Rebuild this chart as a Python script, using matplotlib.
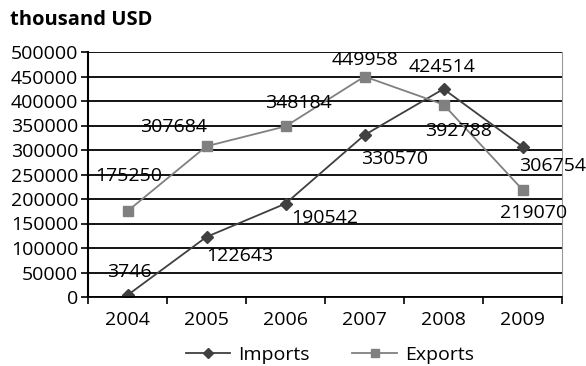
import matplotlib
matplotlib.use('Agg')
import matplotlib.pyplot as plt
import numpy as np

# ─── DATA ───
years = ['2004', '2005', '2006', '2007', '2008', '2009']
imports = [3746, 122643, 190542, 330570, 424514, 306754]
exports = [175250, 307684, 348184, 449958, 392788, 219070]

# label offsets (points) for each data label
imp_off = [(1, 17), (24, -14), (28, -10), (22, -17), (-1, 16), (22, -14)]
exp_off = [(1, 25), (-24, 14), (9, 17), (0, 12), (11, -19), (8, -17)]

plt.rcParams['font.family'] = ['Open Sans', 'DejaVu Sans']
FS = 14

fig = plt.figure(figsize=(5.86, 3.66), dpi=100)
ax = fig.add_axes([88/586, 1-297/366, 474/586, 245/366])

x = np.arange(len(years))
ax.plot(x, imports, '-D', color='#404040', markersize=6.5, linewidth=1.3, label='Imports')
ax.plot(x, exports, '-s', color='#808080', markersize=7.5, linewidth=1.3, label='Exports')

for xi, v, off in zip(x, imports, imp_off):
    ax.annotate(f'{v}', (xi, v), xytext=off, textcoords='offset points',
                ha='center', va='center', fontsize=FS, color='black')
for xi, v, off in zip(x, exports, exp_off):
    ax.annotate(f'{v}', (xi, v), xytext=off, textcoords='offset points',
                ha='center', va='center', fontsize=FS, color='black')

ax.set_xlim(-0.5, 5.5)
ax.set_ylim(0, 500000)
ax.set_yticks(range(0, 500001, 50000))
ax.set_xticks(x)
ax.set_xticklabels(years)
ax.set_xticks(np.arange(-0.5, 5.6, 1), minor=True)
ax.yaxis.grid(True, color='black', linewidth=1.3)
ax.set_axisbelow(True)
ax.tick_params(axis='y', labelsize=FS, length=5, width=1.2, color='black', pad=2)
ax.tick_params(axis='x', which='major', labelsize=FS, length=0, pad=10)
ax.tick_params(axis='x', which='minor', length=5, width=1.2, color='black')
ax.spines['top'].set_visible(False)
ax.spines['right'].set_color('#999999')
ax.spines['left'].set_linewidth(1.5)
ax.spines['bottom'].set_linewidth(1.3)

fig.text(10/586, 1-20/366, 'thousand USD', fontsize=14.5, fontweight='bold', va='center')

ax.legend(loc='center', bbox_to_anchor=(0.51, -0.235), ncol=2, frameon=False,
          fontsize=FS, handlelength=2.3, handletextpad=0.4, columnspacing=2.2,
          markerscale=0.8)

fig.savefig('out.png', dpi=100)
